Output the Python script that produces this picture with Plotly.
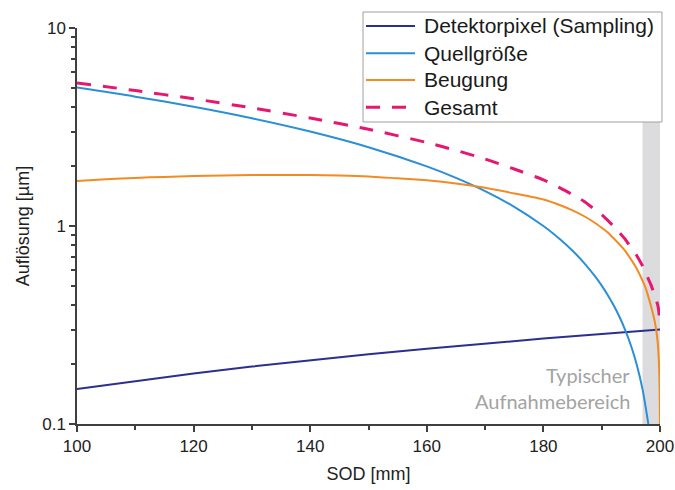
import plotly.graph_objects as go

# Source-object distance (mm) and resolution contributions (µm)
sod_pixel = [100, 110, 120, 130, 140, 150, 160, 170, 180, 190, 200]
res_pixel = [0.15, 0.165, 0.18, 0.195, 0.21, 0.225, 0.24, 0.255, 0.27, 0.285, 0.30]

sod_source = [100, 110, 120, 130, 140, 150, 160, 165, 170, 175, 180, 183, 185, 187, 189,
              190, 191, 192, 193, 194, 195, 196, 197, 198]
res_source = [5.0, 4.5, 4.0, 3.5, 3.0, 2.5, 2.0, 1.75, 1.5, 1.25, 1.0, 0.85, 0.75, 0.65,
              0.55, 0.5, 0.45, 0.4, 0.35, 0.3, 0.25, 0.2, 0.15, 0.1]

sod_diff = [100, 105, 110, 115, 120, 125, 130, 135, 140, 145, 150, 155, 160, 165, 170,
            175, 180, 183, 185, 187, 189, 190, 191, 192, 193, 194, 195, 196, 197, 197.5,
            198, 198.5, 199, 199.3, 199.6, 199.8, 199.9, 199.95, 200]
res_diff = [1.69, 1.72, 1.75, 1.77, 1.79, 1.80, 1.81, 1.81, 1.81, 1.80, 1.78, 1.74, 1.70,
            1.64, 1.56, 1.46, 1.36, 1.27, 1.20, 1.12, 1.03, 0.98, 0.93, 0.87, 0.81, 0.75,
            0.68, 0.61, 0.53, 0.49, 0.44, 0.39, 0.34, 0.305, 0.26, 0.21, 0.17, 0.14, 0.10]

sod_total = [100, 110, 120, 130, 140, 150, 160, 165, 170, 175, 180, 183, 185, 187, 189,
             190, 191, 192, 193, 194, 195, 196, 197, 197.5, 198, 198.5, 199, 199.3, 199.6,
             199.8, 199.9, 200]
res_total = [5.28, 4.83, 4.39, 3.95, 3.51, 3.08, 2.64, 2.41, 2.18, 1.94, 1.71, 1.55, 1.44,
             1.33, 1.20, 1.14, 1.07, 1.00, 0.93, 0.86, 0.78, 0.71, 0.63, 0.59, 0.54, 0.50,
             0.455, 0.43, 0.40, 0.37, 0.345, 0.32]

series_names = ["Detektorpixel (Sampling)", "Quellgröße", "Beugung", "Gesamt"]
series_colors = ["#2b2f8f", "#2a8fd6", "#f38a22", "#e5176f"]

x_ticks = [100, 120, 140, 160, 180, 200]
x_minor = [110, 130, 150, 170, 190]
y_ticks = [0.1, 1, 10]
y_ticktext = ["0.1", "1", "10"]
y_minor = [0.2, 0.3, 0.4, 0.5, 0.6, 0.7, 0.8, 0.9, 2, 3, 4, 5, 6, 7, 8, 9]

band_start, band_end = 197, 200

font = "Liberation Sans"
axis_color = "#3f3f3f"
total_dash = "14px,12px"

fig = go.Figure()
fig.add_trace(go.Scatter(x=sod_pixel, y=res_pixel, mode="lines", name=series_names[0],
                         line=dict(color=series_colors[0], width=2)))
fig.add_trace(go.Scatter(x=sod_source, y=res_source, mode="lines", name=series_names[1],
                         line=dict(color=series_colors[1], width=2, shape="spline",
                                   smoothing=0.8)))
fig.add_trace(go.Scatter(x=sod_diff, y=res_diff, mode="lines", name=series_names[2],
                         line=dict(color=series_colors[2], width=2, shape="spline",
                                   smoothing=0.6)))
fig.add_trace(go.Scatter(x=sod_total, y=res_total, mode="lines", name=series_names[3],
                         line=dict(color=series_colors[3], width=3, dash=total_dash,
                                   shape="spline", smoothing=0.6)))

# Typical acquisition range
fig.add_shape(type="rect", xref="x", yref="y domain", x0=band_start, x1=band_end,
              y0=0, y1=1, fillcolor="#dcdcde", line_width=0, layer="below")

label_font = dict(family="Lato", size=20, color="#a3a3a3")
fig.add_annotation(x=195.2, y=-0.752, xref="x", yref="y", text="Typischer",
                   showarrow=False, xanchor="right", yanchor="middle", font=label_font)
fig.add_annotation(x=195.2, y=-0.884, xref="x", yref="y", text="Aufnahmebereich",
                   showarrow=False, xanchor="right", yanchor="middle", font=label_font)

# Boxed key in the upper right corner
key_box = dict(x0=0.4906, x1=1.0034, y0=0.7626, y1=1.0404)
key_rows = [1.0051, 0.9361, 0.8687, 0.7997]
key_line_x = (0.4957, 0.5798)
key_text_x = 0.5918
fig.add_shape(type="rect", xref="paper", yref="paper", layer="above",
              fillcolor="white", line=dict(color="#a0a0a0", width=1), **key_box)
for i, (name, color) in enumerate(zip(series_names, series_colors)):
    is_total = name == "Gesamt"
    fig.add_shape(type="line", xref="paper", yref="paper", layer="above",
                  x0=key_line_x[0], x1=key_line_x[1], y0=key_rows[i], y1=key_rows[i],
                  line=dict(color=color, width=3 if is_total else 2,
                            dash=total_dash if is_total else "solid"))
    fig.add_annotation(x=key_text_x, y=key_rows[i], xref="paper", yref="paper",
                       text=name, showarrow=False, xanchor="left", yanchor="middle",
                       font=dict(family=font, size=21, color="#1a1a1a"))

fig.update_layout(
    width=675, height=490,
    margin=dict(l=77, r=15, t=28, b=66),
    paper_bgcolor="white", plot_bgcolor="white",
    font=dict(family=font, color="#222222"),
    showlegend=False,
    xaxis=dict(range=[100, 200], tickvals=x_ticks, ticks="outside", ticklen=6,
               tickwidth=1.5, tickcolor=axis_color, showline=True, linecolor=axis_color,
               linewidth=1.5, showgrid=False, zeroline=False, automargin=False,
               tickfont=dict(size=17, family=font, color="#222222"),
               minor=dict(tickvals=x_minor, ticks="outside", ticklen=4,
                          tickcolor=axis_color, tickwidth=1.5, showgrid=False),
               title=dict(text="SOD [mm]", font=dict(size=18, family=font), standoff=12)),
    yaxis=dict(type="log", range=[-1, 1], tickvals=y_ticks, ticktext=y_ticktext,
               ticks="outside", ticklen=6, tickwidth=1.5, tickcolor=axis_color,
               showline=True, linecolor=axis_color, linewidth=1.5, showgrid=False,
               zeroline=False, automargin=False,
               tickfont=dict(size=17, family=font, color="#222222"),
               minor=dict(tickvals=y_minor, ticks="outside", ticklen=4,
                          tickcolor=axis_color, tickwidth=1.5, showgrid=False),
               title=dict(text="Auflösung [µm]", font=dict(size=18, family=font),
                          standoff=8)),
)

fig.write_html("out.html")
